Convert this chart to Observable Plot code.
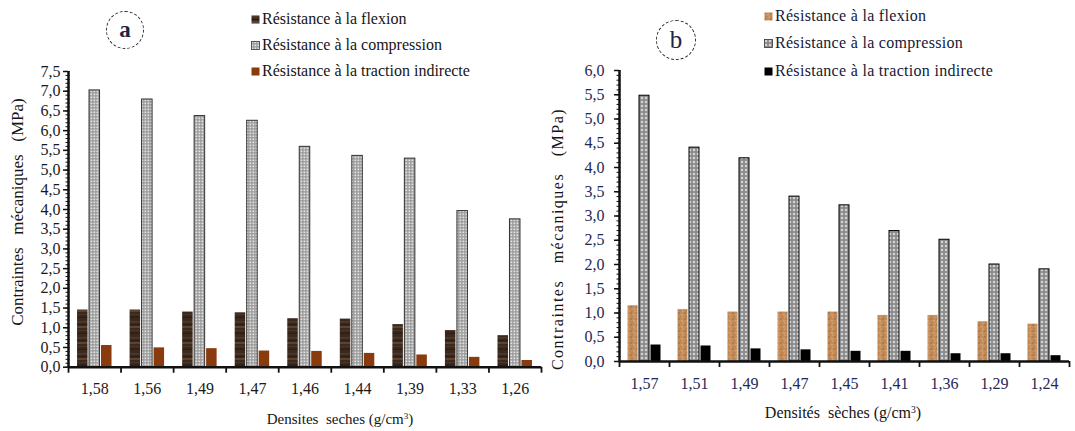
<!DOCTYPE html>
<html>
<head>
<meta charset="utf-8">
<script src="https://cdn.jsdelivr.net/npm/d3@7"></script>
<script src="https://cdn.jsdelivr.net/npm/@observablehq/plot@0.6"></script>
<style>
  body { margin: 0; background: #fff; }
  #page { position: relative; width: 1075px; height: 431px; overflow: hidden;
          font-family: "Liberation Serif", "DejaVu Serif", serif; color: #151515; }
  #page svg { position: absolute; top: 0; }
  #page svg text { font-family: "Liberation Serif", "DejaVu Serif", serif; }
  .ytitle { position: absolute; white-space: pre; transform: translate(-50%, -50%) rotate(-90deg); }
  .xtitle { position: absolute; white-space: pre; transform: translate(-50%, -50%); }
  .xtitle sup { font-size: 0.6em; vertical-align: 0.55em; line-height: 0; }
  .legend-row { position: absolute; display: flex; align-items: center; white-space: pre; font-size: 16px; transform: translateY(-50%); }
  .legend-row svg { position: static !important; margin-right: 2px; }
  .badge { position: absolute; border: 1.5px dashed #2a2a2a; border-radius: 50%;
           display: flex; align-items: center; justify-content: center; transform: translate(-50%, -50%); color: #1c2546; }
</style>
</head>
<body>
<div id="page"></div>
<script>
// Panel (a): dry density categories and the three mechanical strengths (MPa)
const densitiesA = ["1,58", "1,56", "1,49", "1,47", "1,46", "1,44", "1,39", "1,33", "1,26"];
const flexionA = [1.45, 1.45, 1.40, 1.38, 1.23, 1.22, 1.08, 0.93, 0.80];
const compressionA = [7.02, 6.79, 6.37, 6.25, 5.59, 5.36, 5.29, 3.96, 3.75];
const tractionA = [0.55, 0.49, 0.47, 0.41, 0.40, 0.35, 0.31, 0.25, 0.17];
const yTicksA = [0, 0.5, 1, 1.5, 2, 2.5, 3, 3.5, 4, 4.5, 5, 5.5, 6, 6.5, 7, 7.5];

// Panel (b)
const densitiesB = ["1,57", "1,51", "1,49", "1,47", "1,45", "1,41", "1,36", "1,29", "1,24"];
const flexionB = [1.15, 1.07, 1.02, 1.02, 1.02, 0.95, 0.95, 0.82, 0.77];
const compressionB = [5.48, 4.41, 4.19, 3.40, 3.22, 2.69, 2.51, 2.00, 1.90];
const tractionB = [0.34, 0.32, 0.26, 0.24, 0.21, 0.21, 0.16, 0.16, 0.12];
const yTicksB = [0, 0.5, 1, 1.5, 2, 2.5, 3, 3.5, 4, 4.5, 5, 5.5, 6];

const seriesNames = ["Résistance à la flexion", "Résistance à la compression", "Résistance à la traction indirecte"];

// Fill textures used by the bars and the legend swatches
const patternDefs = `
<defs>
  <pattern id="woodA" patternUnits="userSpaceOnUse" width="12" height="16">
    <rect width="12" height="16" fill="#3b291d"/>
    <rect y="1" width="12" height="1.5" fill="#50392a"/>
    <rect y="4" width="12" height="1" fill="#2b1d13"/>
    <rect y="6" width="12" height="2" fill="#594333"/>
    <rect y="10" width="12" height="1" fill="#4a3526"/>
    <rect y="12.5" width="12" height="1.5" fill="#2d1f15"/>
  </pattern>
  <pattern id="dotsA" patternUnits="userSpaceOnUse" width="3" height="3">
    <rect width="3" height="3" fill="#9a9a9a"/>
    <rect x="0.5" y="0.5" width="1.7" height="1.7" fill="#e4e4e4"/>
  </pattern>
  <pattern id="sandB" patternUnits="userSpaceOnUse" width="6" height="6">
    <rect width="6" height="6" fill="#c38d5b"/>
    <rect width="2" height="2" fill="#b27a49"/>
    <rect x="3" y="2" width="2" height="1.5" fill="#d6a273"/>
    <rect x="1" y="4" width="2" height="1.5" fill="#b9824f"/>
    <rect x="4" y="4.5" width="1.5" height="1.5" fill="#d2a070"/>
  </pattern>
  <pattern id="crossB" patternUnits="userSpaceOnUse" width="4" height="4">
    <rect width="4" height="4" fill="#8a8a8a"/>
    <path d="M2,0.5L3.5,2L2,3.5L0.5,2Z" fill="#dcdcdc"/>
  </pattern>
</defs>`;

const fmt = (d) => d.toFixed(1).replace(".", ",");
const page = document.getElementById("page");
const serif = "'Liberation Serif', 'DejaVu Serif', serif";

function panel({cats, flex, comp, trac, yMax, yTicks, width, height, ml, mr, mt, mb,
                fills, compStroke, textColor, yPad, xPad, left, barW, gap}) {
  const series = [flex, comp, trac];
  const rows = series.map((vals, k) => cats.map((c, i) => ({i, k, v: vals[i]})));
  const minor = d3.range(0, Math.round(yMax * 10) + 1).map((t) => t / 10);
  const bar = (k, extra) => Plot.rectY(rows[k], {
    x1: (r) => r.i + 0.5 + (r.k - 1) * gap - barW / 2,
    x2: (r) => r.i + 0.5 + (r.k - 1) * gap + barW / 2,
    y1: 0, y2: "v", fill: fills[k], ...extra
  });
  const svg = Plot.plot({
    width, height, marginLeft: ml, marginRight: mr, marginTop: mt, marginBottom: mb,
    style: {fontFamily: serif, fontSize: "16px",
            background: "transparent", overflow: "visible", color: textColor},
    x: {type: "linear", domain: [0, cats.length], axis: null},
    y: {domain: [0, yMax], axis: null},
    marks: [
      bar(0, {}),
      bar(1, {stroke: compStroke, strokeWidth: 1}),
      bar(2, {}),
      // minor ticks crossing the y axis line
      Plot.axisY({ticks: minor, tickSize: 4, dx: 1.5, tickFormat: () => "", label: null, stroke: "#111"}),
      Plot.axisY({ticks: yTicks, tickSize: 5, tickPadding: yPad, tickFormat: fmt, label: null,
                  stroke: "#111", strokeWidth: 1.5, fill: textColor}),
      // category boundaries and category labels
      Plot.axisX({ticks: d3.range(0, cats.length + 1), tickSize: 6, tickFormat: () => "",
                  label: null, stroke: "#111", strokeWidth: 1.8}),
      Plot.axisX({ticks: cats.map((c, i) => i + 0.5), tickSize: 0, tickPadding: xPad,
                  tickFormat: (d) => cats[Math.floor(d)], label: null, fill: textColor}),
      Plot.ruleY([0], {stroke: "#111", strokeWidth: 2.5}),
      Plot.ruleX([0], {stroke: "#111", strokeWidth: 2.5})
    ]
  });
  svg.style.left = left + "px";
  svg.insertAdjacentHTML("afterbegin", patternDefs);
  page.appendChild(svg);
  return svg;
}

panel({cats: densitiesA, flex: flexionA, comp: compressionA, trac: tractionA,
       yMax: 7.5, yTicks: yTicksA, width: 545, height: 431, ml: 68, mr: 4, mt: 71, mb: 64.3,
       fills: ["url(#woodA)", "url(#dotsA)", "#8a3b0d"], compStroke: "#333",
       textColor: "#1a1a1a", yPad: 3, xPad: 15, left: 0, barW: 0.2, gap: 0.228});

panel({cats: densitiesB, flex: flexionB, comp: compressionB, trac: tractionB,
       yMax: 6, yTicks: yTicksB, width: 535, height: 431, ml: 79, mr: 6, mt: 70, mb: 70,
       fills: ["url(#sandB)", "url(#crossB)", "#000"], compStroke: "#000",
       textColor: "#1f2856", yPad: 10, xPad: 16, left: 540, barW: 0.2, gap: 0.23});

// Text blocks: axis titles, legends and panel badges
function addEl(cls, html, style) {
  const el = document.createElement("div");
  el.className = cls;
  el.innerHTML = html;
  Object.assign(el.style, style);
  page.appendChild(el);
  return el;
}
addEl("ytitle", "Contraintes   mécaniques   (MPa)", {left: "18px", top: "212px", fontSize: "17px"});
addEl("xtitle", "Densites  seches (g/cm<sup>3</sup>)", {left: "340px", top: "419px", fontSize: "15px"});
addEl("ytitle", "Contraintes   mécaniques   (MPa)", {left: "558px", top: "239px", fontSize: "16px", letterSpacing: "1.5px"});
addEl("xtitle", "Densités  sèches (g/cm<sup>3</sup>)", {left: "843px", top: "413px", fontSize: "16px"});

const swatch = (fill, stroke) =>
  `<svg width="9" height="9"><rect x="0.5" y="0.5" width="8" height="8" fill="${fill}" stroke="${stroke}" stroke-width="0.8"/></svg>`;
const legendA = [["url(#woodA)", "none"], ["url(#dotsA)", "#333"], ["#8a3b0d", "none"]];
const legendB = [["url(#sandB)", "none"], ["url(#crossB)", "#333"], ["#000", "none"]];
[19, 45, 71].forEach((y, k) =>
  addEl("legend-row", swatch(...legendA[k]) + seriesNames[k], {left: "251px", top: y + "px"}));
[16, 43, 71].forEach((y, k) =>
  addEl("legend-row", swatch(...legendB[k]) + seriesNames[k], {left: "764px", top: y + "px", color: "#141836", letterSpacing: "0.3px"}));

addEl("badge", "a", {left: "125px", top: "30px", width: "36px", height: "36px", fontSize: "23px", fontWeight: "bold"});
addEl("badge", "b", {left: "676px", top: "40px", width: "38px", height: "38px", fontSize: "25px"});
</script>
</body>
</html>
